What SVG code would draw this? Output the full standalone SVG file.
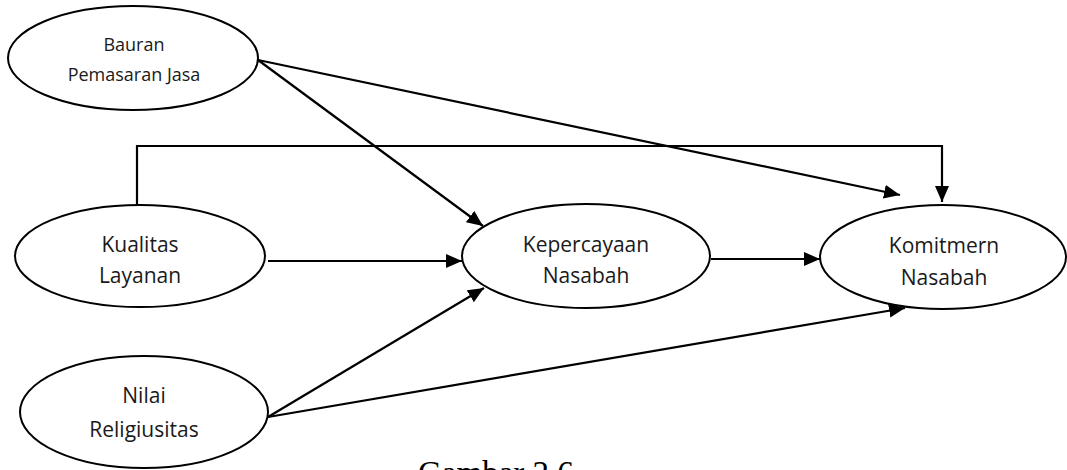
<svg xmlns="http://www.w3.org/2000/svg" width="1067" height="470" viewBox="0 0 1067 470">
  <style>
    .node ellipse { fill: #ffffff; stroke: #000000; stroke-width: 2; }
    .node text { font-family: "Open Sans", "Liberation Sans", sans-serif; font-size: 21px; fill: #1a1a1a; text-anchor: middle; }
    .node.small text { font-size: 18px; }
    #connectors line, #connectors polyline { fill: none; stroke: #000000; stroke-width: 2.2; marker-end: url(#arrow); }
    .caption { font-family: "Liberation Serif", "Times New Roman", serif; font-size: 33px; fill: #000000; }
  </style>
  <defs>
    <marker id="arrow" viewBox="0 0 16 14" refX="16" refY="7" markerWidth="16" markerHeight="14" markerUnits="userSpaceOnUse" orient="auto">
      <path d="M0,0 L16,7 L0,14 z" fill="#000000"/>
    </marker>
  </defs>

  <rect width="1067" height="470" fill="#ffffff"/>

  <!-- paths between constructs -->
  <g id="connectors">
    <line x1="258" y1="60" x2="483" y2="226"/>
    <line x1="258" y1="60" x2="900" y2="195"/>
    <polyline points="137,205 137,146 942,146 942,202"/>
    <line x1="268" y1="261" x2="462" y2="261"/>
    <line x1="711" y1="259" x2="820" y2="259"/>
    <line x1="268" y1="417" x2="484" y2="288"/>
    <line x1="268" y1="417" x2="905" y2="308"/>
  </g>

  <g id="bauran" class="node small">
    <ellipse cx="133" cy="58" rx="125" ry="52"/>
    <text x="134" y="51">Bauran</text>
    <text x="134" y="81">Pemasaran Jasa</text>
  </g>

  <g id="kualitas" class="node">
    <ellipse cx="140" cy="256" rx="125" ry="51"/>
    <text x="140" y="252">Kualitas</text>
    <text x="140" y="283">Layanan</text>
  </g>

  <g id="nilai" class="node">
    <ellipse cx="144" cy="412" rx="124" ry="56"/>
    <text x="144" y="403">Nilai</text>
    <text x="144" y="437">Religiusitas</text>
  </g>

  <g id="kepercayaan" class="node">
    <ellipse cx="586" cy="256" rx="124" ry="52"/>
    <text x="586" y="252">Kepercayaan</text>
    <text x="586" y="283">Nasabah</text>
  </g>

  <g id="komitmen" class="node">
    <ellipse cx="943" cy="257" rx="123" ry="52"/>
    <text x="944" y="253">Komitmern</text>
    <text x="944" y="285">Nasabah</text>
  </g>

  <text class="caption" x="418" y="484">Gambar 2.6</text>
</svg>
